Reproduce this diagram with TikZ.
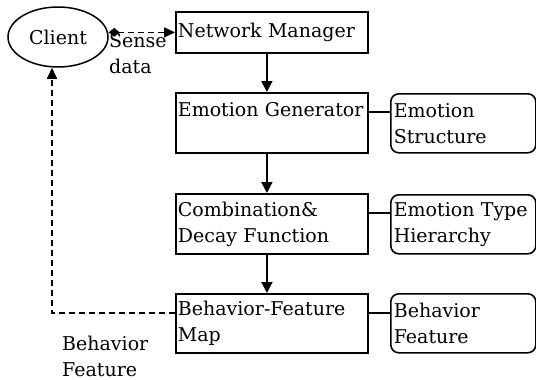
\documentclass[tikz,border=0pt]{standalone}
\usepackage{fontspec}
\setmainfont{DejaVu Serif}
\usepackage{tikz}
\usetikzlibrary{positioning,shapes.geometric,arrows.meta}

\begin{document}
\begin{tikzpicture}[x=1pt,y=-1pt,
  font=\fontsize{19}{26}\selectfont,
  module/.style={draw,line width=1.8pt,rectangle,anchor=north west,minimum width=192pt,
    text width=188pt,inner xsep=2pt,inner ysep=0pt,align=left},
  store/.style={draw,line width=1.6pt,rounded corners=8pt,anchor=north west,minimum width=145pt,
    minimum height=59pt,text width=139pt,inner xsep=3pt,inner ysep=0pt,align=left},
  flow/.style={line width=2pt,-{Triangle[length=11pt,width=11pt]}},
  dashline/.style={line width=1.6pt,dash pattern=on 6pt off 4pt},
  link/.style={line width=1.6pt}]
\useasboundingbox (0,0) rectangle (536,380);
% client and sense data
\node[draw,ellipse,line width=1.5pt,minimum width=100pt,minimum height=60pt,inner sep=0pt] (client) at (58,37) {Client};
\node[anchor=north west,inner sep=0pt,align=left] (sense) at (109,33) {Sense\\data};
% modules
\node[module,minimum height=41pt] (nm) at (175,11) {Network Manager};
\node[module,minimum height=60pt] (eg) at (175,92) {Emotion Generator\\\mbox{}};
\node[module,minimum height=60pt] (cd) at (175,193) {Combination\&\\Decay Function};
\node[module,minimum height=59pt] (bfm) at (175,293) {Behavior-Feature\\Map};
% data stores
\node[store] (es) at (390,93) {Emotion\\Structure};
\node[store] (eth) at (390,194) {Emotion Type\\Hierarchy};
\node[store] (bf) at (390,293) {Behavior\\Feature};
\node[anchor=north west,inner sep=0pt,align=left] (bfl) at (62,336) {Behavior\\Feature};
% connections
\draw[dashline,{Diamond[length=11pt,width=9pt]}-{Triangle[length=11pt,width=10pt]}] (client.east |- nm.west) -- (nm.west);
\draw[flow] (nm.south) ++(-5pt,0) -- ([xshift=-5pt]eg.north);
\draw[flow] ([xshift=-5pt]eg.south) -- ([xshift=-5pt]cd.north);
\draw[flow] ([xshift=-5pt]cd.south) -- ([xshift=-5pt]bfm.north);
\draw[link] ([yshift=-20pt]eg.north east) -- ([yshift=-19pt]es.north west);
\draw[link] ([yshift=-20pt]cd.north east) -- ([yshift=-19pt]eth.north west);
\draw[link] ([yshift=-20pt]bfm.north east) -- ([yshift=-20pt]bf.north west);
\draw[dashline,-{Triangle[length=11pt,width=10pt]}] ([yshift=-20pt]bfm.north west) -| ([xshift=-6pt]client.south);
\end{tikzpicture}
\end{document}
